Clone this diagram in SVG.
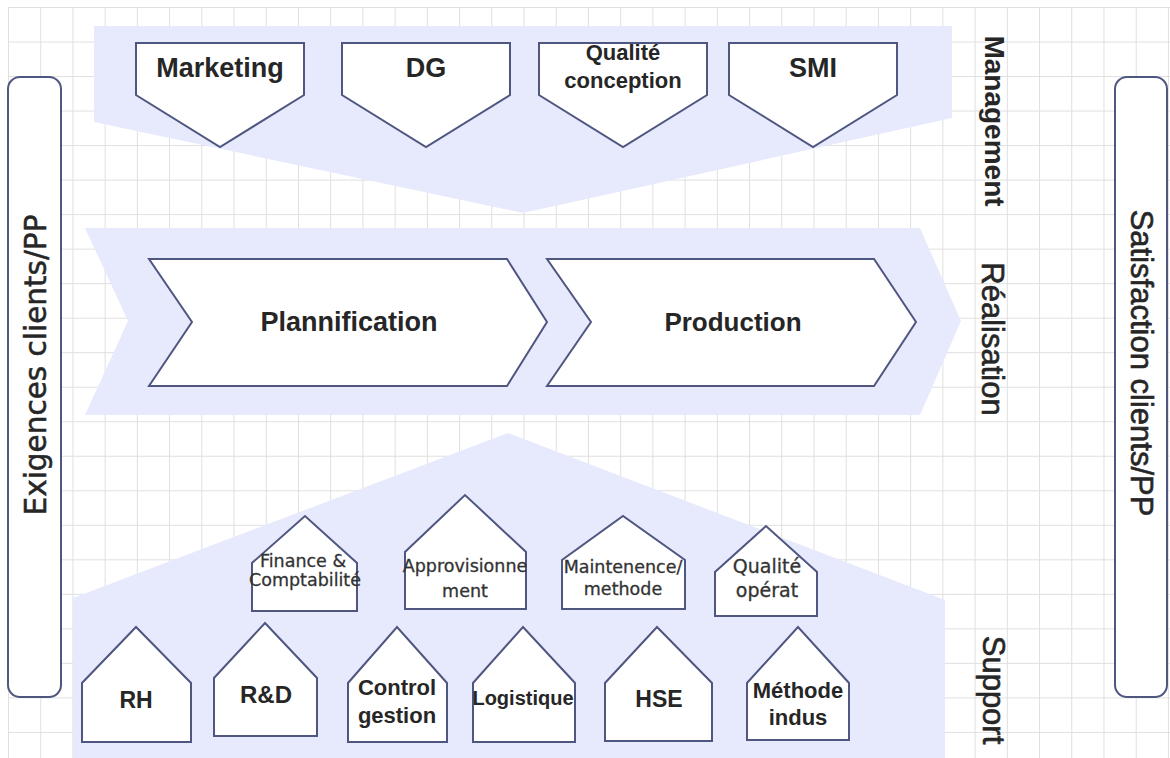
<svg xmlns="http://www.w3.org/2000/svg" width="1170" height="758" viewBox="0 0 1170 758">
  <style>
    .band { fill: #e7eafc; }
    .shape { fill: #ffffff; stroke: #4f5680; stroke-width: 2; stroke-linejoin: miter; }
    .side { fill: #ffffff; stroke: #4f5680; stroke-width: 2; }
    .lbl { font-family: "Liberation Sans", Arial, sans-serif; font-weight: bold; fill: #262626; text-anchor: middle; }
    .sml { font-family: "DejaVu Sans", sans-serif; fill: #333333; stroke: #333333; stroke-width: 0.3; text-anchor: middle; }
    .vert { font-family: "Liberation Sans", Arial, sans-serif; fill: #262626; stroke: #262626; stroke-width: 0.6; text-anchor: middle; }
    .exig { font-family: "DejaVu Sans", sans-serif; fill: #262626; stroke: #262626; stroke-width: 0.5; text-anchor: middle; }
  </style>
  <defs>
    <pattern id="grid" patternUnits="userSpaceOnUse" x="8" y="7" width="32.22" height="34.52">
      <path d="M0,0 H32.22 M0,0 V34.52" fill="none" stroke="#dfdfdf" stroke-width="2"/>
    </pattern>
  </defs>

  <!-- page background and grid -->
  <rect x="0" y="0" width="1170" height="758" fill="#ffffff"/>
  <rect x="8" y="7" width="1162" height="751" fill="url(#grid)"/>

  <!-- process bands -->
  <g id="bands">
    <polygon class="band" points="94,26 952,26 952,118 523,213 94,122"/>
    <polygon class="band" points="85,228 920,228 961,321 920,415 85,415 128,321"/>
    <polygon class="band" points="73,598 508,433 945,600 945,758 73,758"/>
  </g>

  <!-- customer requirement / satisfaction bars -->
  <g id="exigences">
    <rect class="side" x="8" y="77" width="53" height="620" rx="12"/>
    <text class="exig" font-size="29.5" transform="translate(46,365) rotate(-90)">Exigences clients/PP</text>
  </g>
  <g id="satisfaction">
    <rect class="side" x="1115" y="77" width="52" height="620" rx="12"/>
    <text class="vert" font-size="31" transform="translate(1131,363) rotate(90)">Satisfaction clients/PP</text>
  </g>

  <!-- row labels -->
  <g id="row-labels">
    <text class="lbl" font-size="28" transform="translate(985,121) rotate(90)">Management</text>
    <text class="vert" font-size="31" transform="translate(982,339) rotate(90)">Réalisation</text>
    <text class="vert" font-size="31" transform="translate(983,690) rotate(90)">Support</text>
  </g>

  <!-- management processes -->
  <g id="marketing">
    <path class="shape" d="M136,43 H304 V95 L220,147 L136,95 Z"/>
    <text class="lbl" x="220" y="77" font-size="27">Marketing</text>
  </g>
  <g id="dg">
    <path class="shape" d="M342,43 H510 V95 L426,147 L342,95 Z"/>
    <text class="lbl" x="426" y="77" font-size="27">DG</text>
  </g>
  <g id="qualite-conception">
    <path class="shape" d="M539,43 H707 V95 L623,147 L539,95 Z"/>
    <text class="lbl" x="623" y="60" font-size="22">Qualité</text>
    <text class="lbl" x="623" y="88" font-size="22">conception</text>
  </g>
  <g id="smi">
    <path class="shape" d="M729,43 H897 V95 L813,147 L729,95 Z"/>
    <text class="lbl" x="813" y="77" font-size="27">SMI</text>
  </g>

  <!-- realisation processes -->
  <g id="plannification">
    <path class="shape" d="M149,259 H507 L547,322 L507,386 H149 L192,322 Z"/>
    <text class="lbl" x="349" y="331" font-size="27">Plannification</text>
  </g>
  <g id="production">
    <path class="shape" d="M547,259 H874 L916,322 L874,386 H547 L591,322 Z"/>
    <text class="lbl" x="733" y="331" font-size="26">Production</text>
  </g>

  <!-- support processes, upper row -->
  <g id="finance">
    <path class="shape" d="M252,611 V563 L305,516 L357,563 V611 Z"/>
    <text class="sml" x="303" y="567" font-size="17.5">Finance &amp;</text>
    <text class="sml" x="305" y="586" font-size="17.5">Comptabilité</text>
  </g>
  <g id="approvisionnement">
    <path class="shape" d="M405,609 V552 L465,495 L526,552 V609 Z"/>
    <text class="sml" x="465" y="572" font-size="17.5">Approvisionne</text>
    <text class="sml" x="465" y="597" font-size="17.5">ment</text>
  </g>
  <g id="maintenance">
    <path class="shape" d="M562,609 V560 L623,516 L685,560 V609 Z"/>
    <text class="sml" x="623" y="573" font-size="17.5">Maintenence/</text>
    <text class="sml" x="623" y="595" font-size="17.5">methode</text>
  </g>
  <g id="qualite-operat">
    <path class="shape" d="M715,616 V572 L766,526 L817,572 V616 Z"/>
    <text class="sml" x="767" y="573" font-size="19">Qualité</text>
    <text class="sml" x="767" y="597" font-size="19">opérat</text>
  </g>

  <!-- support processes, lower row -->
  <g id="rh">
    <path class="shape" d="M82,742 V683 L136,627 L191,683 V742 Z"/>
    <text class="lbl" x="136" y="708" font-size="23">RH</text>
  </g>
  <g id="rd">
    <path class="shape" d="M214,736 V678 L265,623 L317,678 V736 Z"/>
    <text class="lbl" x="266" y="703" font-size="24">R&amp;D</text>
  </g>
  <g id="control-gestion">
    <path class="shape" d="M348,742 V683 L397,627 L447,683 V742 Z"/>
    <text class="lbl" x="397" y="695" font-size="22">Control</text>
    <text class="lbl" x="397" y="723" font-size="22">gestion</text>
  </g>
  <g id="logistique">
    <path class="shape" d="M473,742 V683 L523,627 L575,683 V742 Z"/>
    <text class="lbl" x="523" y="705" font-size="20">Logistique</text>
  </g>
  <g id="hse">
    <path class="shape" d="M605,741 V683 L657,627 L712,683 V741 Z"/>
    <text class="lbl" x="659" y="707" font-size="23">HSE</text>
  </g>
  <g id="methode-indus">
    <path class="shape" d="M747,740 V683 L798,627 L849,683 V740 Z"/>
    <text class="lbl" x="798" y="698" font-size="22">Méthode</text>
    <text class="lbl" x="798" y="725" font-size="22">indus</text>
  </g>

  <!-- no connectors between processes -->
  <g id="connectors"/>
</svg>
